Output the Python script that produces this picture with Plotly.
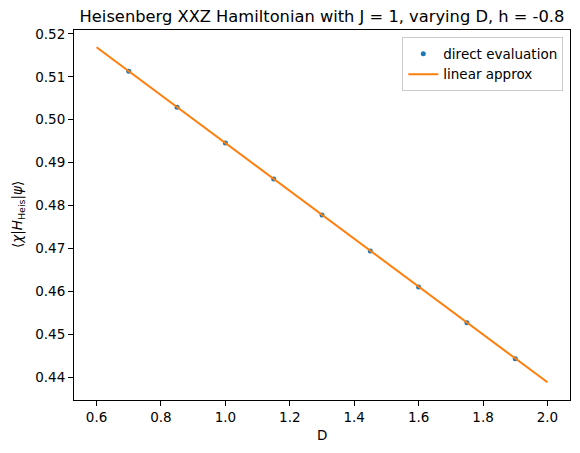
import plotly.graph_objects as go

D_points = [0.7, 0.85, 1.0, 1.15, 1.3, 1.45, 1.6, 1.75, 1.9]
direct_eval = [0.5113, 0.5029, 0.4946, 0.4862, 0.4778, 0.4694, 0.4610, 0.4527, 0.4443]
D_line = [0.6, 2.0]
linear_approx = [0.5169, 0.4388]

x_ticks = [0.6, 0.8, 1.0, 1.2, 1.4, 1.6, 1.8, 2.0]
y_ticks = [0.44, 0.45, 0.46, 0.47, 0.48, 0.49, 0.50, 0.51, 0.52]

FONT = "DejaVu Sans"

# The page body has an 8px margin, so the figure is offset by (8, 8).
W, H = 572, 445
L, R, T, B = 66, 10, 22, 53
PW, PH = W - L - R, H - T - B

fig = go.Figure()
fig.add_trace(go.Scatter(
    x=D_points, y=direct_eval, mode="markers", name="direct evaluation",
    marker=dict(color="#1f77b4", size=5),
))
fig.add_trace(go.Scatter(
    x=D_line, y=linear_approx, mode="lines", name="linear approx",
    line=dict(color="#ff7f0e", width=2),
))

axis_common = dict(
    showgrid=False, zeroline=False, showline=True, linecolor="black", linewidth=1,
    mirror=True, ticks="outside", ticklen=5, tickwidth=1, tickcolor="black",
    tickfont=dict(family=FONT, size=13.5, color="black"), automargin=False,
)

fig.update_layout(
    width=W, height=H,
    margin=dict(l=L, r=R, t=T, b=B),
    paper_bgcolor="white", plot_bgcolor="white",
    font=dict(family=FONT, color="black"),
    title=dict(
        text="Heisenberg XXZ Hamiltonian with J = 1, varying D, h = -0.8",
        x=(L + PW / 2) / W, xanchor="center", y=1 - 8 / H, yanchor="middle",
        font=dict(family=FONT, size=16.3, color="black"),
    ),
    xaxis=dict(range=[0.53, 2.07], tickvals=x_ticks, tickformat=".1f", **axis_common),
    yaxis=dict(range=[0.43468, 0.52092], tickvals=y_ticks, tickformat=".2f", **axis_common),
    legend=dict(
        x=0.9865, y=0.98, xanchor="right", yanchor="top",
        bgcolor="rgba(255,255,255,0.8)", bordercolor="#cccccc", borderwidth=1,
        font=dict(family=FONT, size=13.5, color="black"),
        tracegroupgap=0, itemwidth=30,
    ),
    showlegend=True,
    annotations=[
        dict(text="D", xref="paper", yref="paper", x=0.5, y=-(427 - (T + PH)) / PH,
             xanchor="center", yanchor="middle", showarrow=False,
             font=dict(family=FONT, size=13.5, color="black")),
        dict(text="⟨<i>χ</i>|<i>H</i><sub>Heis</sub>|<i>ψ</i>⟩", xref="paper", yref="paper",
             x=(10 - L) / PW, y=0.5, xanchor="center", yanchor="middle", textangle=-90,
             showarrow=False, font=dict(family=FONT, size=13.5, color="black")),
    ],
)

fig.write_html("out.html")
